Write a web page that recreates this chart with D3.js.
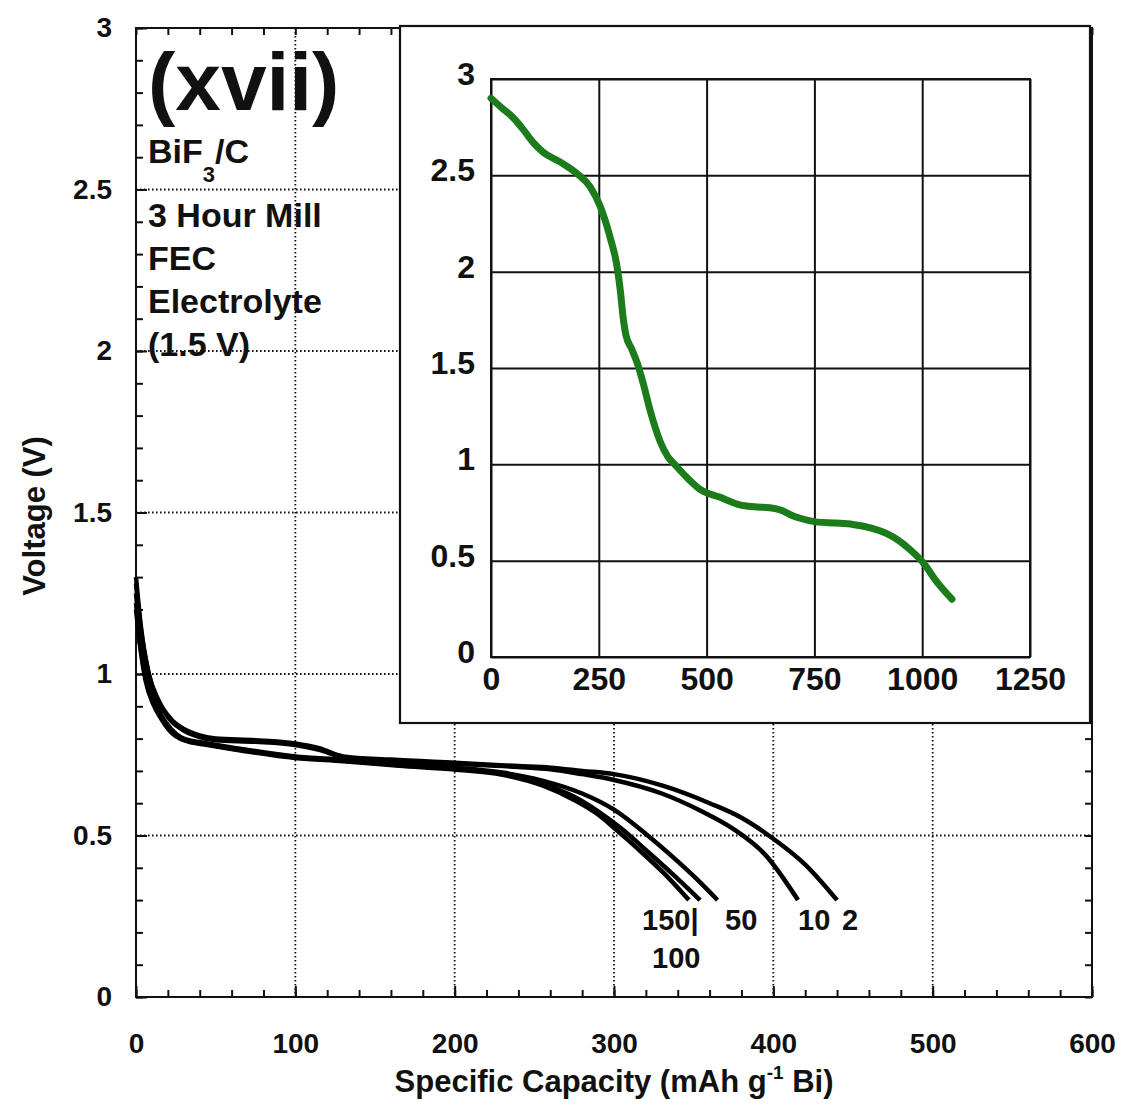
<!DOCTYPE html>
<html>
<head>
<meta charset="utf-8">
<script src="https://cdn.jsdelivr.net/npm/d3@7"></script>
<style>
  body { margin: 0; background: #fff; }
  text { font-family: "Liberation Sans", Arial, sans-serif; font-weight: bold; fill: #111; }
</style>
</head>
<body>
<div id="chart"></div>
<script>
// Discharge curves, main panel (capacity mAh/g, voltage V)
const rate2 = [[0,1.30],[3,1.15],[8,1.0],[14,0.92],[22,0.86],[30,0.83],[40,0.81],[50,0.80],[75,0.795],[100,0.785],[115,0.77],[130,0.745],[160,0.735],[200,0.725],[240,0.715],[260,0.71],[280,0.70],[300,0.69],[330,0.655],[360,0.60],[380,0.555],[400,0.49],[420,0.41],[440,0.30]];
const rate10 = [[0,1.28],[3,1.14],[8,1.0],[14,0.915],[22,0.855],[30,0.825],[40,0.805],[50,0.795],[75,0.79],[100,0.78],[115,0.765],[130,0.742],[160,0.732],[200,0.722],[240,0.712],[260,0.705],[280,0.69],[300,0.672],[330,0.63],[355,0.575],[375,0.52],[395,0.44],[415.5,0.30]];
const rate50 = [[0,1.25],[3,1.10],[6,1.0],[11,0.92],[16,0.87],[22,0.83],[30,0.80],[45,0.785],[70,0.765],[100,0.745],[130,0.735],[165,0.72],[200,0.71],[230,0.695],[255,0.67],[280,0.63],[300,0.58],[320,0.505],[340,0.42],[352,0.365],[365,0.30]];
const rate100 = [[0,1.22],[3,1.08],[6,0.99],[11,0.91],[16,0.865],[22,0.825],[30,0.797],[45,0.782],[70,0.762],[100,0.742],[130,0.732],[165,0.718],[200,0.706],[230,0.69],[255,0.66],[275,0.62],[290,0.575],[305,0.52],[320,0.455],[338,0.375],[354,0.30]];
const rate150 = [[0,1.20],[3,1.07],[6,0.98],[11,0.905],[16,0.86],[22,0.82],[30,0.795],[45,0.78],[70,0.76],[100,0.74],[130,0.73],[165,0.716],[200,0.704],[230,0.688],[255,0.655],[275,0.61],[290,0.565],[302,0.515],[318,0.445],[333,0.375],[347,0.30]];
const mainSeries = [rate2, rate10, rate50, rate100, rate150];

// Inset: first discharge (green)
const insetCurve = [[0,2.90],[25,2.85],[51,2.80],[74,2.74],[98,2.67],[121,2.62],[160,2.57],[199,2.51],[230,2.44],[253,2.34],[276,2.18],[292,2.03],[300,1.90],[306,1.77],[313,1.67],[326,1.60],[340,1.52],[353,1.42],[369,1.28],[392,1.12],[410,1.04],[427,0.997],[455,0.93],[485,0.87],[530,0.83],[577,0.79],[610,0.78],[647,0.775],[675,0.76],[693,0.74],[717,0.72],[757,0.70],[800,0.695],[839,0.688],[880,0.67],[918,0.64],[945,0.605],[965,0.57],[1002,0.49],[1034,0.39],[1069,0.30]];

// Axis ticks
const mainXTicks = [0,100,200,300,400,500,600];
const mainYTicks = [0,0.5,1,1.5,2,2.5,3];
const mainXMinor = d3.range(0, 601, 20);
const mainYMinor = d3.range(0, 30.1, 1).map(d => d / 10);
const insetXTicks = [0,250,500,750,1000,1250];
const insetYTicks = [0,0.5,1,1.5,2,2.5,3];
const insetYLabels = ['0','0.5','1','1.5','2','2.5','3'];

// Labels
const curveLabels = [
    { text: '150|', x: 642, y: 930 },
    { text: '100', x: 652, y: 968 },
    { text: '50', x: 725, y: 930 },
    { text: '10', x: 798, y: 930 },
    { text: '2', x: 842, y: 930 }
];
const noteLines = ['3 Hour Mill', 'FEC', 'Electrolyte', '(1.5 V)'];

const W = 1122, H = 1107;
const svg = d3.select('#chart').append('svg')
    .attr('width', W)
    .attr('height', H);

svg.append('rect').attr('width', W).attr('height', H).attr('fill', '#fff');

// Main panel
const L = 136, R = 1092, T = 28, B = 997;
const x = d3.scaleLinear().domain([0, 600]).range([L, R]);
const y = d3.scaleLinear().domain([0, 3]).range([B, T]);

// dotted grid
const grid = svg.append('g');
grid.selectAll('.gx')
    .data(mainXTicks.slice(1, -1))
    .enter().append('line')
    .attr('x1', d => x(d)).attr('x2', d => x(d))
    .attr('y1', T).attr('y2', B)
    .attr('stroke', '#111').attr('stroke-width', 1.8)
    .attr('stroke-dasharray', '1.6,2.4');
grid.selectAll('.gy')
    .data(mainYTicks.slice(1, -1))
    .enter().append('line')
    .attr('x1', L).attr('x2', R)
    .attr('y1', d => y(d)).attr('y2', d => y(d))
    .attr('stroke', '#111').attr('stroke-width', 1.8)
    .attr('stroke-dasharray', '1.6,2.4');

function styleAxis(g) {
    g.select('.domain').remove();
    g.selectAll('.tick line').attr('stroke', '#111').attr('stroke-width', 2);
}

// minor ticks on all four sides
svg.append('g').attr('transform', `translate(0,${B})`)
    .call(d3.axisBottom(x).tickValues(mainXMinor).tickSize(-7).tickFormat(''))
    .call(styleAxis);
svg.append('g').attr('transform', `translate(0,${T})`)
    .call(d3.axisTop(x).tickValues(mainXMinor).tickSize(-7).tickFormat(''))
    .call(styleAxis);
svg.append('g').attr('transform', `translate(${L},0)`)
    .call(d3.axisLeft(y).tickValues(mainYMinor).tickSize(-7).tickFormat(''))
    .call(styleAxis);
svg.append('g').attr('transform', `translate(${R},0)`)
    .call(d3.axisRight(y).tickValues(mainYMinor).tickSize(-7).tickFormat(''))
    .call(styleAxis);

// major ticks + labels
svg.append('g').attr('transform', `translate(0,${B})`)
    .call(d3.axisBottom(x).tickValues(mainXTicks).tickSize(-11).tickPadding(36).tickFormat(d3.format('d')))
    .call(styleAxis)
    .call(g => g.selectAll('text').style('font-size', '28px').attr('fill', '#111'));
svg.append('g').attr('transform', `translate(${L},0)`)
    .call(d3.axisLeft(y).tickValues(mainYTicks).tickSize(-11).tickPadding(24).tickFormat(d => String(d)))
    .call(styleAxis)
    .call(g => g.selectAll('text').style('font-size', '28px').attr('fill', '#111'));

svg.append('rect')
    .attr('x', L).attr('y', T)
    .attr('width', R - L).attr('height', B - T)
    .attr('fill', 'none').attr('stroke', '#111').attr('stroke-width', 2);

// curves
const line = d3.line()
    .x(d => x(d[0]))
    .y(d => y(d[1]))
    .curve(d3.curveMonotoneX);

svg.append('g').selectAll('path')
    .data(mainSeries)
    .enter().append('path')
    .attr('d', line)
    .attr('fill', 'none')
    .attr('stroke', '#000')
    .attr('stroke-width', 4.5)
    .attr('stroke-linejoin', 'round');

// curve labels
svg.append('g').selectAll('text')
    .data(curveLabels)
    .enter().append('text')
    .attr('x', d => d.x).attr('y', d => d.y)
    .style('font-size', '29px')
    .text(d => d.text);

// axis titles
svg.append('text')
    .attr('transform', 'translate(45,516) rotate(-90)')
    .attr('text-anchor', 'middle')
    .style('font-size', '31px')
    .text('Voltage (V)');

const xt = svg.append('text')
    .attr('x', 614).attr('y', 1092)
    .attr('text-anchor', 'middle')
    .style('font-size', '31px');
xt.append('tspan').text('Specific Capacity (mAh g');
xt.append('tspan').attr('dy', -13).style('font-size', '19px').text('-1');
xt.append('tspan').attr('dy', 13).text(' Bi)');

// annotation block
svg.append('text')
    .attr('x', 148).attr('y', 110)
    .style('font-size', '82px')
    .text('(xvii)');

const bif = svg.append('text')
    .attr('x', 148).attr('y', 163)
    .style('font-size', '34px');
bif.append('tspan').text('BiF');
bif.append('tspan').attr('dy', 19).style('font-size', '22px').text('3');
bif.append('tspan').attr('dy', -19).text('/C');

svg.append('g').selectAll('text')
    .data(noteLines)
    .enter().append('text')
    .attr('x', 148)
    .attr('y', (d, i) => 227 + i * 43)
    .style('font-size', '34px')
    .text(d => d);

// Inset
const IL = 400, IR = 1090, IT = 26, IB = 723;
svg.append('rect')
    .attr('x', IL).attr('y', IT)
    .attr('width', IR - IL).attr('height', IB - IT)
    .attr('fill', '#fff').attr('stroke', '#111').attr('stroke-width', 2.2);

const xi = d3.scaleLinear().domain([0, 1250]).range([491, 1030]);
const yi = d3.scaleLinear().domain([0, 3]).range([657, 79]);

svg.append('g').attr('transform', 'translate(0,657)')
    .call(d3.axisBottom(xi).tickValues(insetXTicks).tickSize(-(657 - 79)).tickPadding(10).tickFormat(d3.format('d')))
    .call(styleAxis)
    .call(g => g.selectAll('text').style('font-size', '32px').attr('fill', '#111'));
svg.append('g').attr('transform', 'translate(491,0)')
    .call(d3.axisLeft(yi).tickValues(insetYTicks).tickSize(-(1030 - 491)).tickPadding(16).tickFormat((d, i) => insetYLabels[i]))
    .call(styleAxis)
    .call(g => g.selectAll('text').style('font-size', '32px').attr('dy', '0.17em').attr('fill', '#111'));

svg.append('rect')
    .attr('x', 491).attr('y', 79)
    .attr('width', 1030 - 491).attr('height', 657 - 79)
    .attr('fill', 'none').attr('stroke', '#111').attr('stroke-width', 2);

const lineInset = d3.line()
    .x(d => xi(d[0]))
    .y(d => yi(d[1]))
    .curve(d3.curveMonotoneX);

svg.append('path')
    .datum(insetCurve)
    .attr('d', lineInset)
    .attr('fill', 'none')
    .attr('stroke', '#1c7c1c')
    .attr('stroke-width', 7)
    .attr('stroke-linecap', 'round')
    .attr('stroke-linejoin', 'round');
</script>
</body>
</html>
